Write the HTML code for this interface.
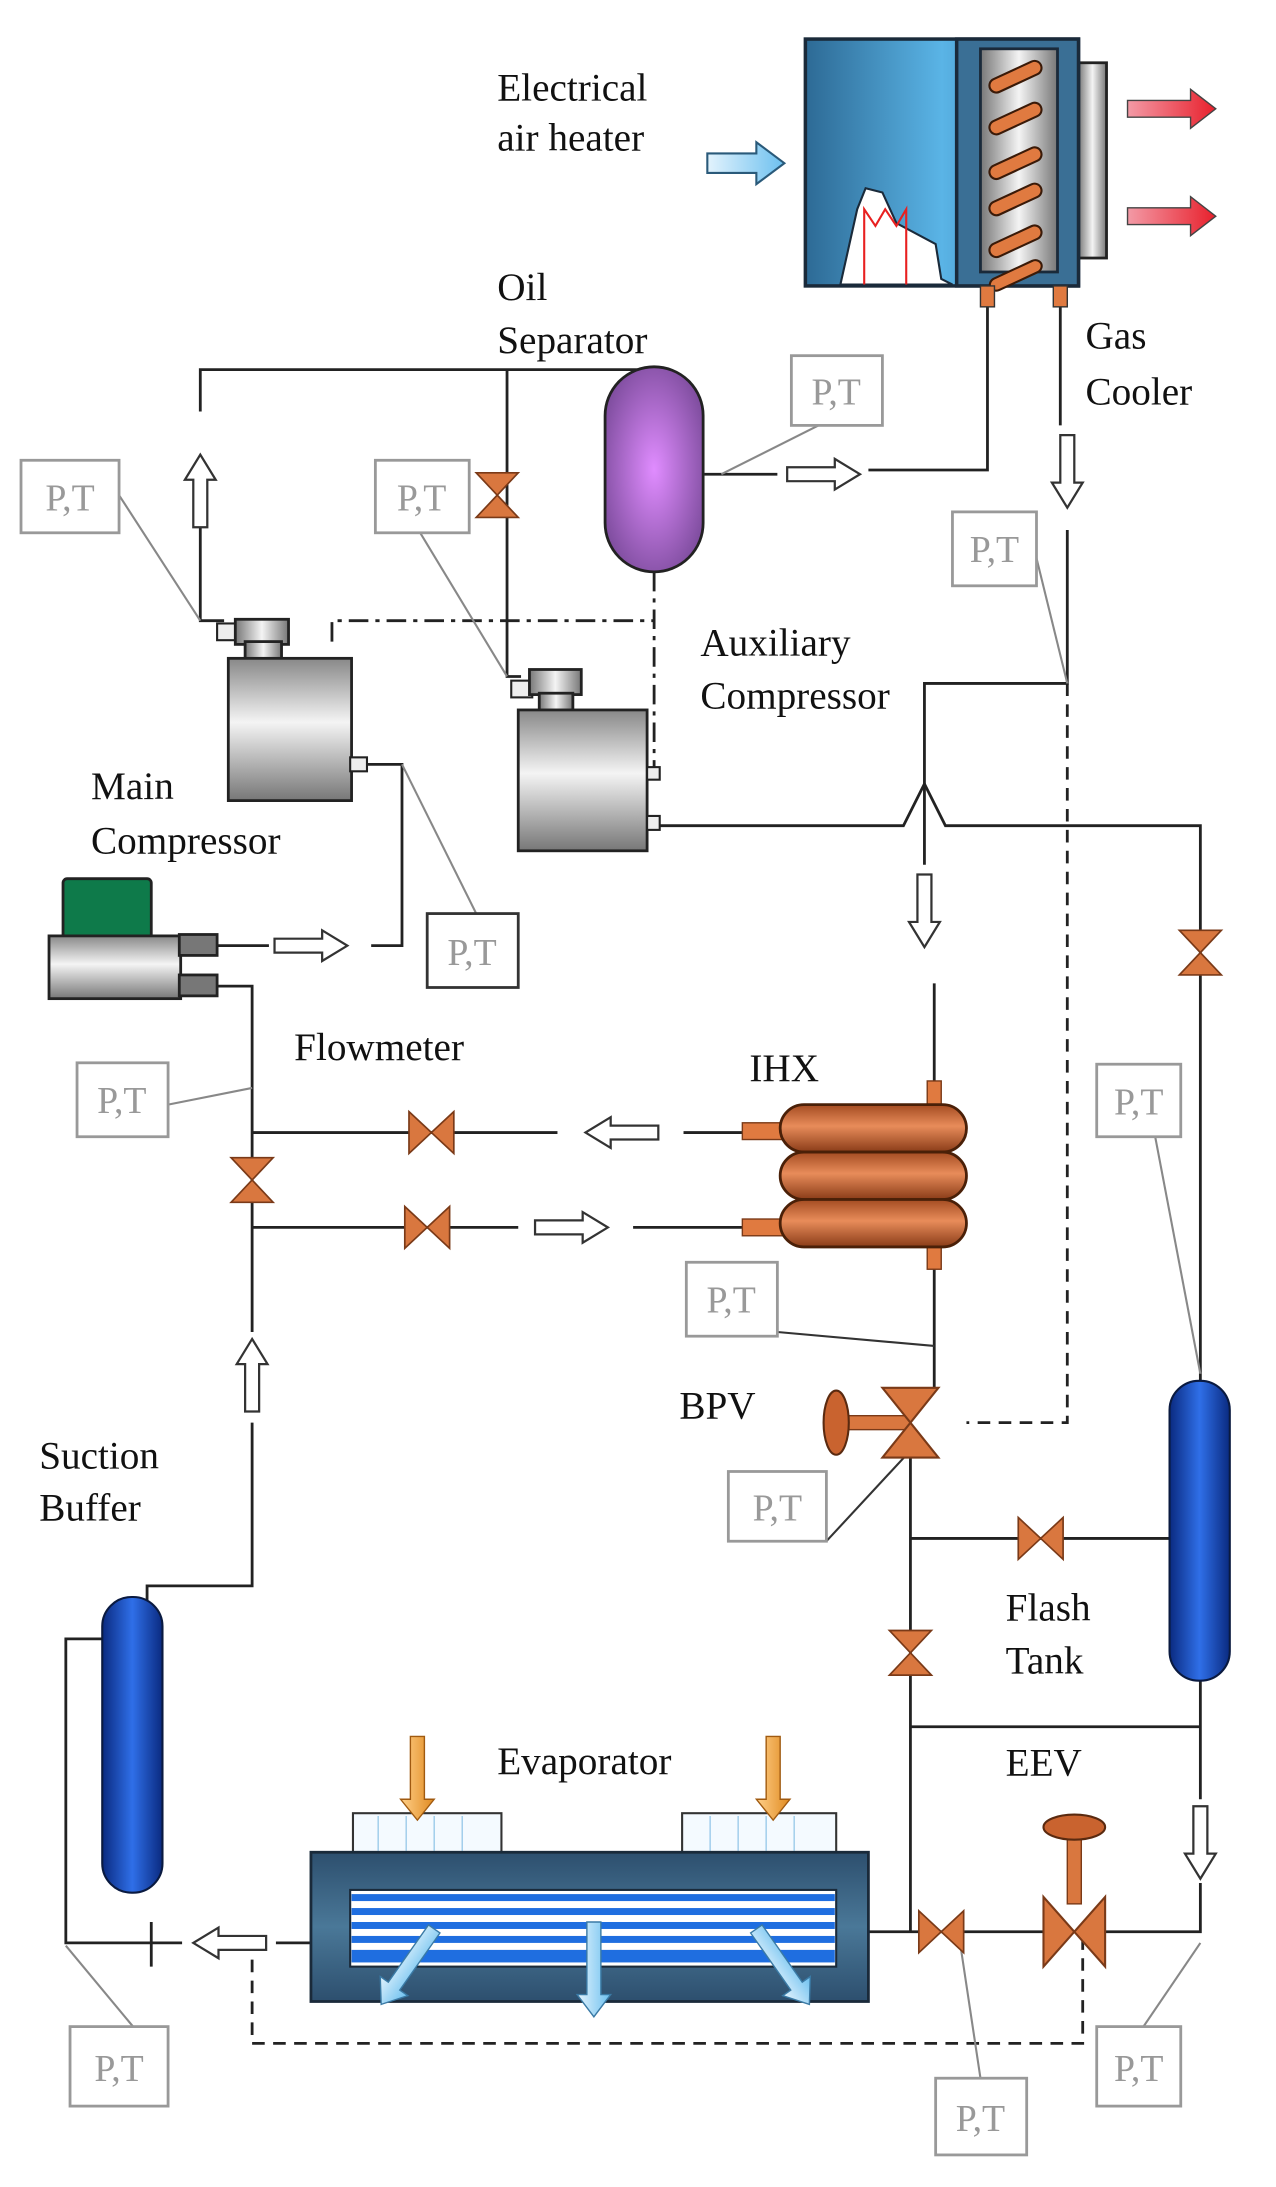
<!DOCTYPE html>
<html><head><meta charset="utf-8"><style>html,body{margin:0;padding:0;background:#fff}svg{display:block}</style></head>
<body>
<svg width="1276" height="2187" viewBox="0 0 911 1568" preserveAspectRatio="none" xmlns="http://www.w3.org/2000/svg">
<defs>
<linearGradient id="blueBox" x1="0" x2="1"><stop offset="0" stop-color="#2d6a95"/><stop offset="0.5" stop-color="#5ab4e6"/><stop offset="1" stop-color="#2d6a95"/></linearGradient>
<linearGradient id="grey" x1="0" x2="1"><stop offset="0" stop-color="#777"/><stop offset="0.5" stop-color="#f4f4f4"/><stop offset="1" stop-color="#777"/></linearGradient>
<linearGradient id="greyV" x1="0" y1="0" x2="0" y2="1"><stop offset="0" stop-color="#888"/><stop offset="0.45" stop-color="#f4f4f4"/><stop offset="1" stop-color="#777"/></linearGradient>
<radialGradient id="purple" cx="0.5" cy="0.5" r="0.6"><stop offset="0" stop-color="#e08cff"/><stop offset="1" stop-color="#7a4a9a"/></radialGradient>
<linearGradient id="tank" x1="0" x2="1"><stop offset="0" stop-color="#0a2a80"/><stop offset="0.5" stop-color="#2f6fe8"/><stop offset="1" stop-color="#0a2a80"/></linearGradient>
<linearGradient id="copper" x1="0" y1="0" x2="0" y2="1"><stop offset="0" stop-color="#a44c22"/><stop offset="0.45" stop-color="#e88c5a"/><stop offset="1" stop-color="#8a3c18"/></linearGradient>
<linearGradient id="red" x1="0" x2="1"><stop offset="0" stop-color="#f39aa6"/><stop offset="1" stop-color="#e8202c"/></linearGradient>
<linearGradient id="lblue" x1="0" x2="1"><stop offset="0" stop-color="#e3f3fd"/><stop offset="1" stop-color="#6cc0ef"/></linearGradient>
<linearGradient id="orng" x1="0" x2="1"><stop offset="0" stop-color="#ffd08a"/><stop offset="1" stop-color="#e08a20"/></linearGradient>
<linearGradient id="evap" x1="0" y1="0" x2="0" y2="1"><stop offset="0" stop-color="#2d4f6e"/><stop offset="0.5" stop-color="#4a7898"/><stop offset="1" stop-color="#2d4f6e"/></linearGradient>
<path id="ha" d="M0,-5 H34 V-11 L52,0 L34,11 V5 H0 Z" fill="#fff" stroke="#333" stroke-width="1.6"/>
<path id="va" d="M-16,-15 L0,0 L-16,15Z M16,-15 L0,0 L16,15Z" fill="#d9773f" stroke="#7a3a18" stroke-width="1.2"/>
</defs>

<g fill="none" stroke="#222" stroke-width="2">
<!-- top loop -->
<polyline points="143,295 143,265 460,265"/>
<polyline points="143,375 143,445 160,445"/>
<polyline points="362,265 362,485 372,485"/>
<!-- separator outlet to gas cooler -->
<line x1="503" y1="340" x2="555" y2="340"/>
<polyline points="620,337 705,337 705,220"/>
<!-- gas cooler outlet -->
<line x1="757" y1="220" x2="757" y2="305"/>
<polyline points="762,380 762,490 660,490 660,620"/>
<line x1="667" y1="705" x2="667" y2="910"/>
<line x1="667" y1="910" x2="667" y2="995"/>
<!-- aux compressor discharge with hop -->
<polyline points="470,592 645,592 660,562 675,592 857,592 857,995"/>
<!-- main comp outlet to flowmeter -->
<polyline points="262,548 287,548 287,678 265,678"/>
<line x1="155" y1="678" x2="192" y2="678"/>
<polyline points="155,707 180,707 180,955"/>
<polyline points="180,812 398,812"/>
<line x1="488" y1="812" x2="530" y2="812"/>
<line x1="180" y1="880" x2="370" y2="880"/>
<line x1="452" y1="880" x2="530" y2="880"/>
<polyline points="180,1020 180,1137 105,1137 105,1150"/>
<!-- BPV down -->
<polyline points="650,1045 650,1385"/>
<line x1="650" y1="1103" x2="835" y2="1103"/>
<line x1="650" y1="1238" x2="857" y2="1238"/>
<line x1="857" y1="1205" x2="857" y2="1290"/>
<polyline points="857,1350 857,1385 620,1385"/>
<!-- suction buffer -->
<polyline points="73,1175 47,1175 47,1393 130,1393"/>
<line x1="108" y1="1378" x2="108" y2="1410"/>
<line x1="197" y1="1393" x2="222" y2="1393"/>
</g>
<!-- dashed -->
<g fill="none" stroke="#222" stroke-width="2" stroke-dasharray="9,6">
<polyline points="762,490 762,1020 690,1020"/>
<polyline points="180,1405 180,1465 773,1465 773,1385"/>
</g>
<g fill="none" stroke="#222" stroke-width="2" stroke-dasharray="14,5,3,5">
<polyline points="237,460 237,445 467,445"/>
<polyline points="467,410 467,555"/>
</g>

<!-- PT leader lines -->
<g stroke="#888" stroke-width="1.5" fill="none">
<line x1="630" y1="282" x2="515" y2="340"/>
<line x1="85" y1="355" x2="143" y2="445"/>
<line x1="300" y1="382" x2="362" y2="485"/>
<line x1="738" y1="392" x2="762" y2="490"/>
<line x1="340" y1="655" x2="287" y2="548"/>
<line x1="120" y1="792" x2="180" y2="780"/>
<line x1="555" y1="955" x2="667" y2="965" stroke="#333"/>
<line x1="590" y1="1105" x2="650" y2="1040" stroke="#333"/>
<line x1="820" y1="790" x2="857" y2="985"/>
<line x1="95" y1="1453" x2="47" y2="1395"/>
<line x1="700" y1="1490" x2="685" y2="1390"/>
<line x1="815" y1="1455" x2="857" y2="1393"/>
</g>
<!-- PT boxes -->
<g fill="#fff" stroke="#999" stroke-width="2">
<rect x="565" y="255" width="65" height="50"/>
<rect x="15" y="330" width="70" height="52"/>
<rect x="268" y="330" width="67" height="52"/>
<rect x="680" y="367" width="60" height="53"/>
<rect x="305" y="655" width="65" height="53" stroke="#333"/>
<rect x="55" y="762" width="65" height="53"/>
<rect x="490" y="905" width="65" height="53"/>
<rect x="520" y="1055" width="70" height="50"/>
<rect x="783" y="763" width="60" height="52"/>
<rect x="50" y="1453" width="70" height="57"/>
<rect x="668" y="1490" width="65" height="55"/>
<rect x="783" y="1453" width="60" height="57"/>
</g>
<g font-family="Liberation Serif, serif" font-size="27" fill="#999" text-anchor="middle">
<text x="597" y="290">P,T</text>
<text x="50" y="366">P,T</text>
<text x="301" y="366">P,T</text>
<text x="710" y="403">P,T</text>
<text x="337" y="692">P,T</text>
<text x="87" y="798">P,T</text>
<text x="522" y="941">P,T</text>
<text x="555" y="1090">P,T</text>
<text x="813" y="799">P,T</text>
<text x="85" y="1492">P,T</text>
<text x="700" y="1528">P,T</text>
<text x="813" y="1492">P,T</text>
</g>

<!-- gas cooler -->
<rect x="770" y="45" width="20" height="140" fill="url(#grey)" stroke="#222" stroke-width="2"/>
<rect x="575" y="28" width="195" height="177" fill="url(#blueBox)" stroke="#1a2a3a" stroke-width="2.5"/>
<rect x="683" y="28" width="87" height="177" fill="#3a6f95" stroke="#1a2a3a" stroke-width="2.5"/>
<rect x="700" y="35" width="55" height="160" fill="url(#grey)" stroke="#1a2a3a" stroke-width="2"/>
<g stroke="#3a1a08" stroke-width="1.5" fill="#e07a40">
<rect x="705" y="50" width="40" height="10" rx="5" transform="rotate(-25 725 55)"/>
<rect x="705" y="80" width="40" height="10" rx="5" transform="rotate(-25 725 85)"/>
<rect x="705" y="112" width="40" height="10" rx="5" transform="rotate(-25 725 117)"/>
<rect x="705" y="138" width="40" height="10" rx="5" transform="rotate(-25 725 143)"/>
<rect x="705" y="168" width="40" height="10" rx="5" transform="rotate(-25 725 173)"/>
<rect x="705" y="193" width="40" height="9" rx="5" transform="rotate(-25 725 197)"/>
</g>
<path d="M600,204 L612,150 L618,135 L630,138 L640,160 L668,175 L672,200 L680,204 Z" fill="#fff" stroke="#1a2a3a" stroke-width="1.5"/>
<polyline points="617,204 617,150 625,162 632,150 640,162 647,150 647,204" fill="none" stroke="#e82020" stroke-width="1.5"/>
<rect x="700" y="205" width="10" height="15" fill="#e07a40" stroke="#333"/>
<rect x="752" y="205" width="10" height="15" fill="#e07a40" stroke="#333"/>
<path d="M505,110 H540 V102 L560,117 L540,132 V124 H505 Z" fill="url(#lblue)" stroke="#2a5a7a" stroke-width="1.5"/>
<path d="M805,72 H850 V64 L868,78 L850,92 V84 H805 Z" fill="url(#red)" stroke="#444" stroke-width="1"/>
<path d="M805,149 H850 V141 L868,155 L850,169 V161 H805 Z" fill="url(#red)" stroke="#444" stroke-width="1"/>

<!-- oil separator -->
<rect x="432" y="263" width="70" height="147" rx="35" fill="url(#purple)" stroke="#222" stroke-width="2"/>

<!-- main compressor -->
<rect x="155" y="447" width="15" height="12" fill="#eee" stroke="#222" stroke-width="1.5"/>
<rect x="168" y="444" width="38" height="18" fill="url(#grey)" stroke="#222" stroke-width="2"/>
<rect x="175" y="460" width="26" height="14" fill="url(#grey)" stroke="#222" stroke-width="2"/>
<rect x="163" y="472" width="88" height="102" fill="url(#greyV)" stroke="#222" stroke-width="2"/>
<rect x="250" y="543" width="12" height="10" fill="#eee" stroke="#222" stroke-width="1.5"/>
<!-- aux compressor -->
<rect x="365" y="488" width="15" height="12" fill="#eee" stroke="#222" stroke-width="1.5"/>
<rect x="378" y="480" width="37" height="18" fill="url(#grey)" stroke="#222" stroke-width="2"/>
<rect x="385" y="497" width="24" height="14" fill="url(#grey)" stroke="#222" stroke-width="2"/>
<rect x="370" y="509" width="92" height="101" fill="url(#greyV)" stroke="#222" stroke-width="2"/>
<rect x="462" y="550" width="9" height="9" fill="#eee" stroke="#222" stroke-width="1.5"/>
<rect x="462" y="585" width="9" height="10" fill="#eee" stroke="#222" stroke-width="1.5"/>

<!-- flowmeter -->
<rect x="45" y="630" width="63" height="45" rx="3" fill="#0e7a4a" stroke="#222" stroke-width="2"/>
<rect x="35" y="671" width="94" height="45" fill="url(#greyV)" stroke="#222" stroke-width="2"/>
<rect x="128" y="670" width="27" height="15" fill="#777" stroke="#222" stroke-width="2"/>
<rect x="128" y="699" width="27" height="15" fill="#777" stroke="#222" stroke-width="2"/>

<!-- IHX -->
<rect x="662" y="775" width="10" height="135" fill="#e07a40" stroke="#7a3a18"/>
<rect x="530" y="805" width="35" height="12" fill="#e07a40" stroke="#7a3a18"/>
<rect x="530" y="874" width="35" height="12" fill="#e07a40" stroke="#7a3a18"/>
<rect x="557" y="792" width="133" height="34" rx="17" fill="url(#copper)" stroke="#4a2008" stroke-width="2"/>
<rect x="557" y="826" width="133" height="34" rx="17" fill="url(#copper)" stroke="#4a2008" stroke-width="2"/>
<rect x="557" y="860" width="133" height="34" rx="17" fill="url(#copper)" stroke="#4a2008" stroke-width="2"/>

<!-- BPV -->
<rect x="600" y="1015" width="50" height="10" fill="#d9773f" stroke="#7a3a18"/>
<ellipse cx="597" cy="1020" rx="9" ry="23" fill="#c9632f" stroke="#5a2a10" stroke-width="1.5"/>
<path d="M630,995 L670,995 L650,1020Z M630,1045 L670,1045 L650,1020Z" fill="#d9773f" stroke="#7a3a18" stroke-width="1.5"/>

<!-- flash tank and suction buffer -->
<rect x="835" y="990" width="43" height="215" rx="21" fill="url(#tank)" stroke="#0a1a40" stroke-width="1.5"/>
<rect x="73" y="1145" width="43" height="212" rx="21" fill="url(#tank)" stroke="#0a1a40" stroke-width="1.5"/>

<!-- valves -->
<use href="#va" transform="translate(355,355) rotate(90)"/>
<use href="#va" transform="translate(857,683) rotate(90)"/>
<use href="#va" transform="translate(308,812)"/>
<use href="#va" transform="translate(305,880)"/>
<use href="#va" transform="translate(180,846) rotate(90)"/>
<use href="#va" transform="translate(743,1103)"/>
<use href="#va" transform="translate(650,1185) rotate(90)"/>
<use href="#va" transform="translate(672,1385)"/>

<!-- EEV -->
<rect x="762" y="1315" width="10" height="50" fill="#d9773f" stroke="#7a3a18"/>
<ellipse cx="767" cy="1310" rx="22" ry="9" fill="#c9632f" stroke="#5a2a10" stroke-width="1.5"/>
<path d="M745,1360 L767,1385 L745,1410Z M789,1360 L767,1385 L789,1410Z" fill="#d9773f" stroke="#7a3a18" stroke-width="1.5"/>

<!-- evaporator -->
<rect x="252" y="1300" width="106" height="28" fill="#f4faff" stroke="#333" stroke-width="1.5"/>
<rect x="487" y="1300" width="110" height="28" fill="#f4faff" stroke="#333" stroke-width="1.5"/>
<g stroke="#9ccbea" stroke-width="1"><line x1="270" y1="1302" x2="270" y2="1327"/><line x1="290" y1="1302" x2="290" y2="1327"/><line x1="310" y1="1302" x2="310" y2="1327"/><line x1="330" y1="1302" x2="330" y2="1327"/><line x1="507" y1="1302" x2="507" y2="1327"/><line x1="527" y1="1302" x2="527" y2="1327"/><line x1="547" y1="1302" x2="547" y2="1327"/><line x1="567" y1="1302" x2="567" y2="1327"/></g>
<rect x="222" y="1328" width="398" height="107" fill="url(#evap)" stroke="#1a2a3a" stroke-width="2"/>
<rect x="250" y="1355" width="347" height="55" fill="#fff" stroke="#1a2a3a" stroke-width="1.5"/>
<g fill="#1f6ee0"><rect x="251" y="1358" width="345" height="5"/><rect x="251" y="1368" width="345" height="5"/><rect x="251" y="1378" width="345" height="5"/><rect x="251" y="1388" width="345" height="5"/><rect x="251" y="1398" width="345" height="9"/></g>
<path d="M293,1245 H303 V1290 H310 L298,1305 L286,1290 H293Z" fill="url(#orng)" stroke="#a05a10" stroke-width="1"/>
<path d="M547,1245 H557 V1290 H564 L552,1305 L540,1290 H547Z" fill="url(#orng)" stroke="#a05a10" stroke-width="1"/>
<path d="M419,1378 H429 V1430 H436 L424,1446 L412,1430 H419Z" fill="url(#lblue)" stroke="#3a7aa5" stroke-width="1"/>
<g transform="rotate(35 310 1383)"><path d="M305,1383 H315 V1433 H322 L310,1449 L298,1433 H305Z" fill="url(#lblue)" stroke="#3a7aa5" stroke-width="1"/></g>
<g transform="rotate(-35 540 1383)"><path d="M535,1383 H545 V1433 H552 L540,1449 L528,1433 H535Z" fill="url(#lblue)" stroke="#3a7aa5" stroke-width="1"/></g>

<!-- hollow arrows -->
<use href="#ha" transform="translate(143,378) rotate(-90)"/>
<use href="#ha" transform="translate(562,340)"/>
<use href="#ha" transform="translate(762,312) rotate(90)"/>
<use href="#ha" transform="translate(660,627) rotate(90)"/>
<use href="#ha" transform="translate(196,678)"/>
<use href="#ha" transform="translate(470,812) rotate(180)"/>
<use href="#ha" transform="translate(382,880)"/>
<use href="#ha" transform="translate(180,1012) rotate(-90)"/>
<use href="#ha" transform="translate(857,1295) rotate(90)"/>
<use href="#ha" transform="translate(190,1393) rotate(180)"/>

<!-- labels -->
<g font-family="Liberation Serif, serif" font-size="28" fill="#111">
<text x="355" y="72">Electrical</text>
<text x="355" y="108">air heater</text>
<text x="355" y="215">Oil</text>
<text x="355" y="253">Separator</text>
<text x="775" y="250">Gas</text>
<text x="775" y="290">Cooler</text>
<text x="500" y="470">Auxiliary</text>
<text x="500" y="508">Compressor</text>
<text x="65" y="573">Main</text>
<text x="65" y="612">Compressor</text>
<text x="210" y="760">Flowmeter</text>
<text x="535" y="775">IHX</text>
<text x="485" y="1017">BPV</text>
<text x="28" y="1053">Suction</text>
<text x="28" y="1090">Buffer</text>
<text x="718" y="1162">Flash</text>
<text x="718" y="1200">Tank</text>
<text x="718" y="1273">EEV</text>
<text x="355" y="1272">Evaporator</text>
</g>
</svg>
</body></html>
